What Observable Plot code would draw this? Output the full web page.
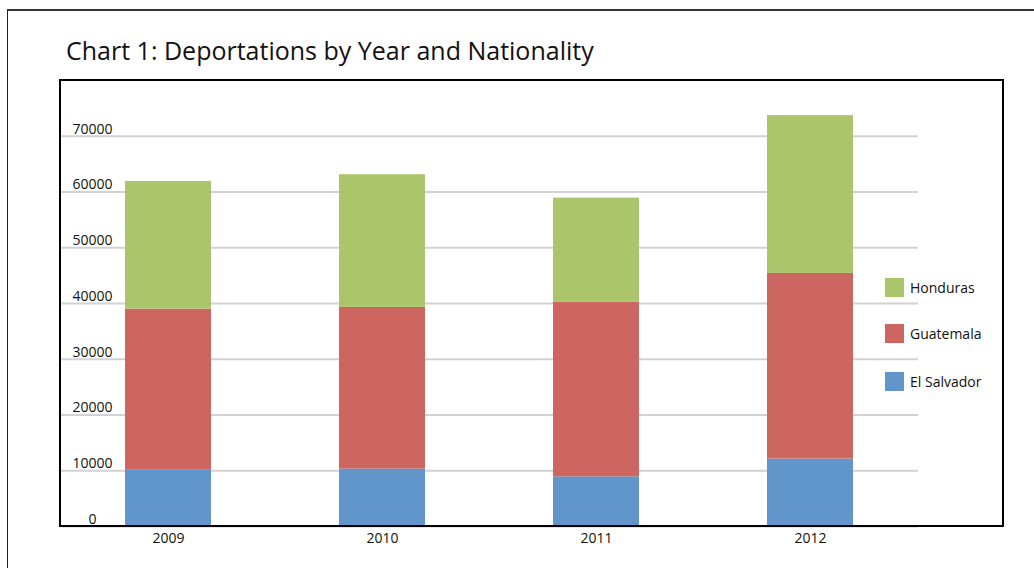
<!DOCTYPE html>
<html>
<head>
<meta charset="utf-8">
<script src="https://cdn.jsdelivr.net/npm/d3@7"></script>
<script src="https://cdn.jsdelivr.net/npm/@observablehq/plot@0.6"></script>
<style>
  html, body { margin: 0; padding: 0; background: #fff; }
  body { width: 1034px; height: 568px; position: relative; overflow: hidden; font-family: "Open Sans", sans-serif; }
  #outer { position: absolute; left: 7px; top: 9px; width: 1100px; height: 700px; border-left: 1px solid #222; border-top: 2px solid #333; box-sizing: border-box; }
  #title { position: absolute; left: 66px; top: 35px; font-size: 25px; line-height: 30px; color: #111; white-space: nowrap; }
  #chart { position: absolute; left: 0; top: 0; }
  #box { position: absolute; left: 59px; top: 79px; width: 945px; height: 448px; border: 2px solid #000; box-sizing: border-box; pointer-events: none; }
  .leg { position: absolute; left: 885px; height: 19px; display: flex; align-items: center; font-size: 14px; color: #111; white-space: nowrap; }
  .leg span.sw { width: 19px; height: 19px; display: inline-block; margin-right: 6px; }
</style>
</head>
<body>
<div id="outer"></div>
<div id="title">Chart 1: Deportations by Year and Nationality</div>
<div id="chart"></div>
<div id="box"></div>
<div id="legend"></div>
<script>
const years = ["2009", "2010", "2011", "2012"];
const nations = ["El Salvador", "Guatemala", "Honduras"];
const elSalvador = [10200, 10300, 8900, 12100];
const guatemala = [28800, 29000, 31300, 33300];
const honduras = [22900, 23800, 18700, 28300];
const colors = ["#6196cb", "#cd6560", "#abc56b"];
const yTicks = [0, 10000, 20000, 30000, 40000, 50000, 60000, 70000];
const legendOrder = ["Honduras", "Guatemala", "El Salvador"];
const legendTops = [278, 324, 372];

const series = {"El Salvador": elSalvador, "Guatemala": guatemala, "Honduras": honduras};
const rows = [];
for (const n of nations) years.forEach((y, i) => rows.push({year: y, nation: n, value: series[n][i]}));

const chart = Plot.plot({
  width: 1034,
  height: 568,
  marginLeft: 60,
  marginRight: 116,
  marginTop: 80,
  marginBottom: 42,
  style: {fontFamily: "Open Sans, sans-serif", background: "transparent", color: "#111"},
  x: {domain: years, paddingInner: 0.6, paddingOuter: 0.3, label: null, axis: null},
  y: {domain: [0, 80000], label: null, axis: null},
  color: {domain: nations, range: colors},
  marks: [
    Plot.ruleY(yTicks, {stroke: "#d2d2d2", strokeWidth: 2}),
    Plot.barY(rows, {x: "year", y: "value", fill: "nation", order: nations}),
    Plot.axisX({tickSize: 0, tickPadding: 7, fontSize: 14, label: null, tickFormat: d => d}),
    Plot.text(yTicks, {y: d => d, text: d => String(d), frameAnchor: "left", dx: 32, dy: -7, textAnchor: "middle", fontSize: 14, fill: "#111"})
  ]
});
document.getElementById("chart").appendChild(chart);

const legend = document.getElementById("legend");
legendOrder.forEach((n, i) => {
  const d = document.createElement("div");
  d.className = "leg";
  d.style.top = legendTops[i] + "px";
  const sw = document.createElement("span");
  sw.className = "sw";
  sw.style.background = colors[nations.indexOf(n)];
  d.appendChild(sw);
  d.appendChild(document.createTextNode(n));
  legend.appendChild(d);
});
</script>
</body>
</html>
